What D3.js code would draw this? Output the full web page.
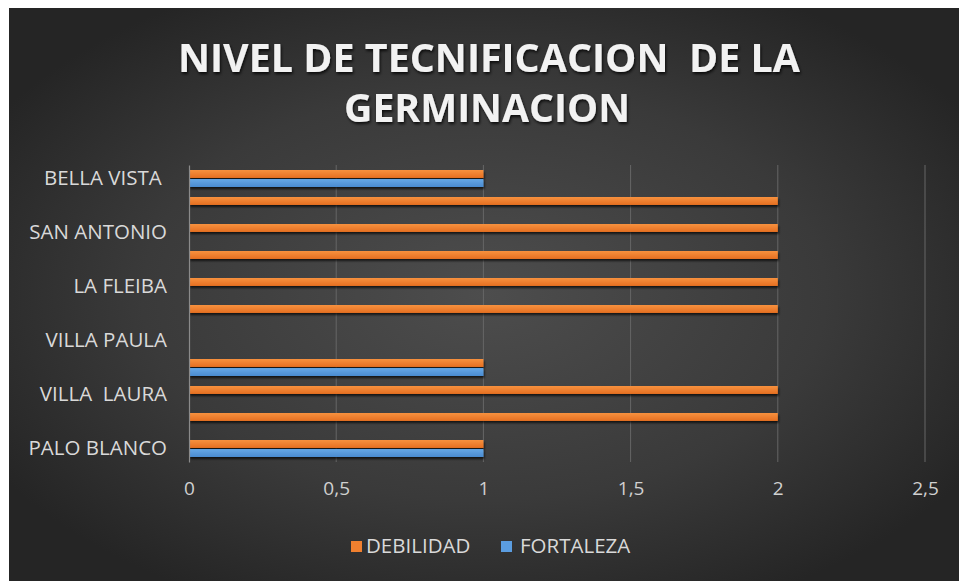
<!DOCTYPE html>
<html>
<head>
<meta charset="utf-8">
<script src="https://cdn.jsdelivr.net/npm/d3@7"></script>
<style>
  html, body { margin: 0; padding: 0; background: #fff; }
  text { font-family: "Open Sans", sans-serif; }
</style>
</head>
<body>
<svg id="chart" width="959" height="581"></svg>
<script>
'use strict';

// categories bottom -> top, Excel only printed every second label
var categories = ["PALO BLANCO", "", "VILLA  LAURA", "", "VILLA PAULA", "", "LA FLEIBA", "", "SAN ANTONIO", "", "BELLA VISTA "];
var debilidad = [1, 2, 2, 1, 0, 2, 2, 2, 2, 2, 1];
var fortaleza = [1, 0, 0, 1, 0, 0, 0, 0, 0, 0, 1];
var seriesNames = ["DEBILIDAD", "FORTALEZA"];
var xTicks = [0, 0.5, 1, 1.5, 2, 2.5];
var titleLines = ["NIVEL DE TECNIFICACION  DE LA", "GERMINACION"];

var W = 959, H = 581;
var svg = d3.select('#chart');
var defs = svg.append('defs');

var bg = defs.append('radialGradient').attr('id', 'bg')
    .attr('cx', '50%').attr('cy', '50%').attr('r', '60%');
bg.append('stop').attr('offset', '0%').attr('stop-color', '#4d4d4d');
bg.append('stop').attr('offset', '60%').attr('stop-color', '#3a3a3a');
bg.append('stop').attr('offset', '100%').attr('stop-color', '#252525');

var gOr = defs.append('linearGradient').attr('id', 'gOr').attr('x1', 0).attr('y1', 0).attr('x2', 0).attr('y2', 1);
gOr.append('stop').attr('offset', '0%').attr('stop-color', '#f7913f');
gOr.append('stop').attr('offset', '100%').attr('stop-color', '#e56f20');
var gBl = defs.append('linearGradient').attr('id', 'gBl').attr('x1', 0).attr('y1', 0).attr('x2', 0).attr('y2', 1);
gBl.append('stop').attr('offset', '0%').attr('stop-color', '#66a8e6');
gBl.append('stop').attr('offset', '100%').attr('stop-color', '#4a8bd0');

var shadow = defs.append('filter').attr('id', 'shadow')
    .attr('x', '-5%').attr('y', '-50%').attr('width', '110%').attr('height', '250%');
shadow.append('feDropShadow').attr('dx', 1).attr('dy', 2).attr('stdDeviation', 1.2)
    .attr('flood-color', '#000').attr('flood-opacity', 0.7);

var tshadow = defs.append('filter').attr('id', 'tshadow')
    .attr('x', '-5%').attr('y', '-30%').attr('width', '110%').attr('height', '160%');
tshadow.append('feDropShadow').attr('dx', 1).attr('dy', 2).attr('stdDeviation', 1.5)
    .attr('flood-color', '#000').attr('flood-opacity', 0.8);

svg.append('rect').attr('x', 9).attr('y', 8).attr('width', W - 9).attr('height', H - 8)
    .attr('fill', 'url(#bg)');

// title
svg.append('g').selectAll('text')
    .data(titleLines)
    .enter().append('text')
    .attr('x', function(d, i) { return i === 0 ? 489 : 487; })
    .attr('y', function(d, i) { return 72 + i * 50; })
    .attr('text-anchor', 'middle')
    .attr('textLength', function(d, i) { return i === 0 ? 622 : 286; })
    .attr('lengthAdjust', 'spacingAndGlyphs')
    .style('white-space', 'pre')
    .attr('font-size', 40)
    .attr('font-weight', 700)
    .attr('fill', '#f2f2f2')
    .attr('filter', 'url(#tshadow)')
    .text(function(d) { return d; });

var x = d3.scaleLinear().domain([0, 2.5]).range([189, 925]);
var y = d3.scaleBand().domain(d3.range(categories.length).reverse()).range([165, 462]);
var inner = d3.scaleBand().domain(seriesNames).range([-8.5, 8.5]).paddingInner(0.12);

// gridlines
svg.append('g').selectAll('line')
    .data(xTicks.slice(1))
    .enter().append('line')
    .attr('x1', function(d) { return x(d); })
    .attr('x2', function(d) { return x(d); })
    .attr('y1', 165).attr('y2', 462)
    .attr('stroke', '#666').attr('stroke-width', 1);

var rows = categories.map(function(c, i) {
    return [
        { s: 'DEBILIDAD', i: i, v: debilidad[i] },
        { s: 'FORTALEZA', i: i, v: fortaleza[i] }
    ];
});

var groups = svg.append('g').selectAll('g')
    .data(rows)
    .enter().append('g')
    .attr('transform', function(d, i) { return 'translate(0,' + (y(i) + y.bandwidth() / 2) + ')'; });

groups.selectAll('rect')
    .data(function(d) { return d.filter(function(e) { return e.v > 0; }); })
    .enter().append('rect')
    .attr('x', x(0))
    .attr('y', function(d) { return inner(d.s); })
    .attr('width', function(d) { return x(d.v) - x(0); })
    .attr('height', inner.bandwidth())
    .attr('fill', function(d) { return d.s === 'DEBILIDAD' ? 'url(#gOr)' : 'url(#gBl)'; })
    .attr('filter', 'url(#shadow)');

// value axis (labels only, Excel style)
var xAxis = svg.append('g').attr('transform', 'translate(0,462)')
    .call(d3.axisBottom(x).tickValues(xTicks).tickSize(0).tickPadding(20)
        .tickFormat(function(d) { return String(d).replace('.', ','); }));
xAxis.select('.domain').remove();
xAxis.selectAll('text')
    .attr('font-family', '"Open Sans", sans-serif')
    .attr('font-size', 19)
    .attr('fill', '#d0d0d0');

// category axis
var yAxis = svg.append('g').attr('transform', 'translate(' + x(0) + ',0)')
    .call(d3.axisLeft(y).tickSize(0).tickPadding(22)
        .tickFormat(function(i) { return categories[i]; }));
yAxis.select('.domain').attr('stroke', '#8a8a8a').attr('stroke-width', 1.2);
yAxis.selectAll('text')
    .attr('font-family', '"Open Sans", sans-serif')
    .attr('font-size', 20.5)
    .attr('fill', '#d9d9d9')
    .style('white-space', 'pre');

// legend
var legendX = [351, 501];
var legendColors = ['#f0802f', '#5b9de0'];
var legend = svg.append('g').selectAll('g')
    .data(seriesNames)
    .enter().append('g')
    .attr('transform', function(d, i) { return 'translate(' + legendX[i] + ',541)'; });
legend.append('rect')
    .attr('width', 11).attr('height', 11)
    .attr('fill', function(d, i) { return legendColors[i]; });
legend.append('text')
    .attr('x', function(d, i) { return i === 0 ? 15 : 19; }).attr('y', 11.5)
    .attr('font-size', 20.5)
    .attr('fill', '#d9d9d9')
    .text(function(d) { return d; });
</script>
</body>
</html>
